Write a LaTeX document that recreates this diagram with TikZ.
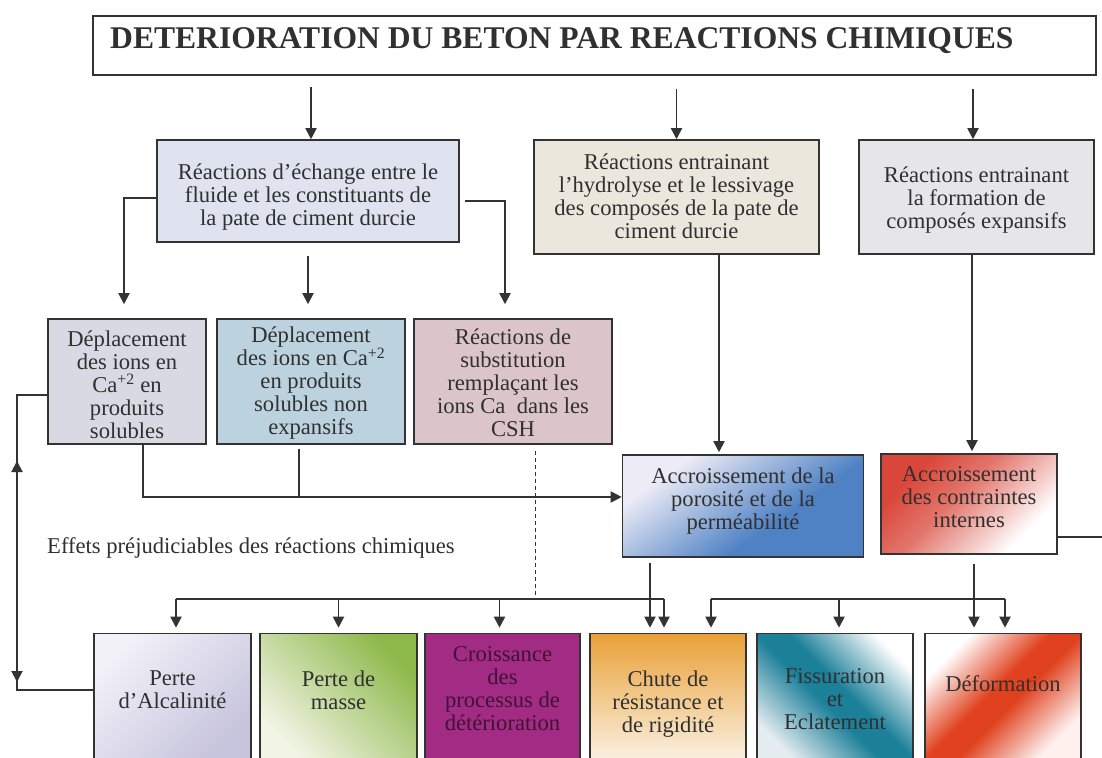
\documentclass[tikz,border=0pt]{standalone}
\usepackage{fontspec}
\setmainfont{Liberation Serif}
\usetikzlibrary{arrows.meta,calc}
\definecolor{textc}{HTML}{303030}
\definecolor{linec}{HTML}{333333}
\definecolor{fa}{HTML}{DFE2EF}
\definecolor{fb}{HTML}{EBE7DD}
\definecolor{fc}{HTML}{E6E6E8}
\definecolor{fd1}{HTML}{D9D9E3}
\definecolor{fd2}{HTML}{BCD3DF}
\definecolor{fd3}{HTML}{DCC5C9}
\definecolor{pblue}{HTML}{4F82C4}
\definecolor{plight}{HTML}{ECEBF6}
\definecolor{qred}{HTML}{D9473A}
\definecolor{lav}{HTML}{C6C3DC}
\definecolor{lavl}{HTML}{F2F1F8}
\definecolor{grn}{HTML}{8DB84A}
\definecolor{grnl}{HTML}{F2F5E6}
\definecolor{mag}{HTML}{A22C84}
\definecolor{orn}{HTML}{E9A036}
\definecolor{ornl}{HTML}{FAF1E3}
\definecolor{tealc}{HTML}{1C8099}
\definecolor{tealw}{HTML}{E4ECF0}
\definecolor{redc}{HTML}{E0421F}
\pgfdeclareverticalshading{pshade}{100bp}{color(0bp)=(pblue); color(40bp)=(pblue); color(72bp)=(plight); color(100bp)=(plight)}
\pgfdeclareverticalshading{qshade}{100bp}{color(0bp)=(white); color(28bp)=(white); color(55bp)=(qred!75); color(72bp)=(qred); color(100bp)=(qred)}
\pgfdeclarehorizontalshading{tealband}{100bp}{color(0bp)=(tealw); color(24bp)=(tealw); color(46bp)=(tealc); color(54bp)=(tealc); color(76bp)=(white); color(100bp)=(white)}
\pgfdeclarehorizontalshading{redband}{100bp}{color(0bp)=(white); color(26bp)=(white); color(46bp)=(redc); color(54bp)=(redc); color(74bp)=(redc!8); color(100bp)=(redc!8)}
\newcommand\bodyfont{\fontsize{22.6}{23}\selectfont}
\newcommand\titlefont{\fontsize{31.6}{33}\selectfont\bfseries}
\tikzset{
  box/.style={draw=linec, line width=1.6pt, inner sep=0pt},
  btext/.style={align=center, inner sep=0pt, font=\bodyfont, text=textc},
  ln/.style={draw=linec, line width=1.9pt},
  arr/.style={ln, -{Triangle[length=11pt,width=11pt]}},
}
\begin{document}
\begin{tikzpicture}[x=1pt,y=-1pt]
\useasboundingbox (0,0) rectangle (1102,757);
\clip (0,0) rectangle (1102,757);
\fill[white] (0,0) rectangle (1102,757);
% title
\node[box, minimum width=1003pt, minimum height=59pt] (title) at (594.5,45.5) {};
\node[anchor=west, font=\titlefont, text=textc, inner sep=0pt] (titletext) at (110,41) {DETERIORATION DU BETON PAR REACTIONS CHIMIQUES};
% level 1
\node[box, fill=fa, minimum width=302pt, minimum height=102pt] (A) at (308,191) {};
\node[btext] (At) at ($(A)+(0,6)$) {Réactions d’échange entre le\\fluide et les constituants de\\la pate de ciment durcie};
\node[box, fill=fb, minimum width=285pt, minimum height=114pt] (B) at (676.5,197) {};
\node[btext] (Bt) at ($(B)+(0,-1)$) {Réactions entrainant\\l’hydrolyse et le lessivage\\des composés de la pate de\\ciment durcie};
\node[box, fill=fc, minimum width=235pt, minimum height=114pt] (C) at (976.5,197) {};
\node[btext] (Ct) at ($(C)+(0,3)$) {Réactions entrainant\\la formation de\\composés expansifs};
% level 2
\node[box, fill=fd1, minimum width=158pt, minimum height=125pt] (D1) at (127,381.5) {};
\node[btext] (D1t) at ($(D1)+(0,3)$) {Déplacement\\des ions en\\Ca\textsuperscript{+2} en\\produits\\solubles};
\node[box, fill=fd2, minimum width=188pt, minimum height=125pt] (D2) at (311,381.5) {};
\node[btext] (D2t) at ($(D2)+(0,2)$) {Déplacement\\des ions en Ca\textsuperscript{+2}\\en produits\\solubles non\\expansifs};
\node[box, fill=fd3, minimum width=198pt, minimum height=125pt] (D3) at (513,381.5) {};
\node[btext] (D3t) at ($(D3)+(0,1)$) {Réactions de\\substitution\\remplaçant les\\ions Ca\ \ dans les\\CSH};
% level 3
\node[box, shade, shading=pshade, shading angle=35, minimum width=241pt, minimum height=102pt] (P) at (743,506) {};
\node[btext] (Pt) at ($(P)+(0,-5)$) {Accroissement de la\\porosité et de la\\perméabilité};
\node[box, shade, shading=qshade, shading angle=45, minimum width=176pt, minimum height=100pt] (Q) at (969,504) {};
\node[btext] (Qt) at ($(Q)+(0,-7)$) {Accroissement\\des contraintes\\internes};
\node[anchor=west, font=\bodyfont, text=textc, inner sep=0pt] (effets) at (47,548) {Effets préjudiciables des réactions chimiques};
% bottom row
\node[box, shade, shading=axis, top color=lavl, bottom color=lav, shading angle=45, minimum width=157pt, minimum height=127pt] (E1) at (172.5,697) {};
\node[btext] (E1t) at ($(E1)+(0,-7)$) {Perte\\d’Alcalinité};
\node[box, shade, shading=axis, top color=grn, bottom color=grnl, shading angle=-45, minimum width=157pt, minimum height=127pt] (E2) at (338.5,697) {};
\node[btext] (E2t) at ($(E2)+(0,-7)$) {Perte de\\masse};
\node[box, fill=mag, minimum width=155pt, minimum height=127pt] (E3) at (502.5,697) {};
\node[btext, text=mag!40!black] (E3t) at ($(E3)+(0,-8)$) {Croissance\\des\\processus de\\détérioration};
\node[box, shade, top color=orn, bottom color=ornl, minimum width=156pt, minimum height=127pt] (E4) at (668,697) {};
\node[btext] (E4t) at ($(E4)+(0,7)$) {Chute de\\résistance et\\de rigidité};
\node[box, shade, shading=tealband, shading angle=45, minimum width=156pt, minimum height=127pt] (E5) at (835,697) {};
\node[btext] (E5t) at ($(E5)+(0,2)$) {Fissuration\\et\\Eclatement};
\node[box, shade, shading=redband, shading angle=-45, minimum width=156pt, minimum height=127pt] (E6) at (1003,697) {};
\node[btext] (E6t) at ($(E6)+(0,-13)$) {Déformation};
% title arrows
\draw[arr] ($(title.south -| A.north)+(3,11)$) -- ($(A.north)+(3,0)$);
\draw[arr] ($(title.south -| B.north)+(0,13)$) -- (B.north);
\draw[arr] ($(title.south -| C.north)+(-3.5,13)$) -- ($(C.north)+(-3.5,0)$);
% A to row 2
\draw[arr] ($(A.west)+(0,7)$) -| ($(D1.north)+(-3,-14)$);
\draw[arr] ($(A.south)+(0,13)$) -- ($(A.south |- D2.north)+(0,-14)$);
\draw[arr] ($(A.east)+(5,10)$) -| ($(D3.north)+(-8,-14)$);
% row 2 to P
\draw[arr] ($(D1.south)+(16,0)$) |- ($(P.west)+(0,-9)$);
\draw[ln] ($(D2.south)+(-12,4)$) -- ($(D2.south)+(-12,53)$);
% B, C down
\coordinate (bp) at ($(P.north)+(-24,-2)$);
\draw[arr] (B.south -| bp) -- (bp);
\coordinate (cq) at ($(Q.north)+(3,-2)$);
\draw[arr] (C.south -| cq) -- (cq);
% bars
\coordinate (barL) at ($(E1.north)+(3.5,-34)$);
\coordinate (barM) at ($(E4.north)+(-4,-34)$);
\coordinate (barR1) at ($(E4.north)+(43,-34)$);
\coordinate (barR2) at ($(E6.north)+(2,-34)$);
\coordinate (dsh) at ($(D3.south)+(22,6)$);
\draw[ln, line width=1pt, dash pattern=on 4pt off 3pt] (dsh) -- (dsh |- barL);
\draw[ln] (barL) -- (barM);
\draw[arr, shorten >=5pt] (barL) -- (barL |- E1.north);
\draw[arr, shorten >=5pt] (E2.north |- barL) -- (E2.north);
\draw[arr, shorten >=5pt] ($(E3.north |- barL)+(-3,0)$) -- ($(E3.north)+(-3,0)$);
\draw[arr, shorten >=5pt] (barM) -- (barM |- E4.north);
\coordinate (pd) at ($(P.south)+(-93,5)$);
\draw[arr, shorten >=5pt] (pd) -- (pd |- E4.north);
\draw[ln] (barR1) -- (barR2);
\draw[arr, shorten >=5pt] (barR1) -- (barR1 |- E4.north);
\draw[arr, shorten >=5pt] ($(E5.north |- barR1)+(4,0)$) -- ($(E5.north)+(4,0)$);
\draw[arr, shorten >=5pt] (barR2) -- (barR2 |- E6.north);
\coordinate (qd) at ($(Q.south)+(5,9)$);
\draw[arr, shorten >=5pt] (qd) -- (qd |- E6.north);
% Q right exit
\coordinate (qout) at (1102,537);
\draw[ln] (Q.east |- qout) -- (qout);
% left loop
\coordinate (lt) at (17,395);
\coordinate (lb) at (17,690);
\draw[ln] ($(D1.west)+(0,13.5)$) -- (lt) -- (lb) -- (lb -| E1.west);
\coordinate (lu) at (17,461);
\draw[arr] ($(lu)+(0,22)$) -- (lu);
\coordinate (ld) at (17,682);
\draw[arr] ($(ld)+(0,-22)$) -- (ld);
\end{tikzpicture}
\end{document}
